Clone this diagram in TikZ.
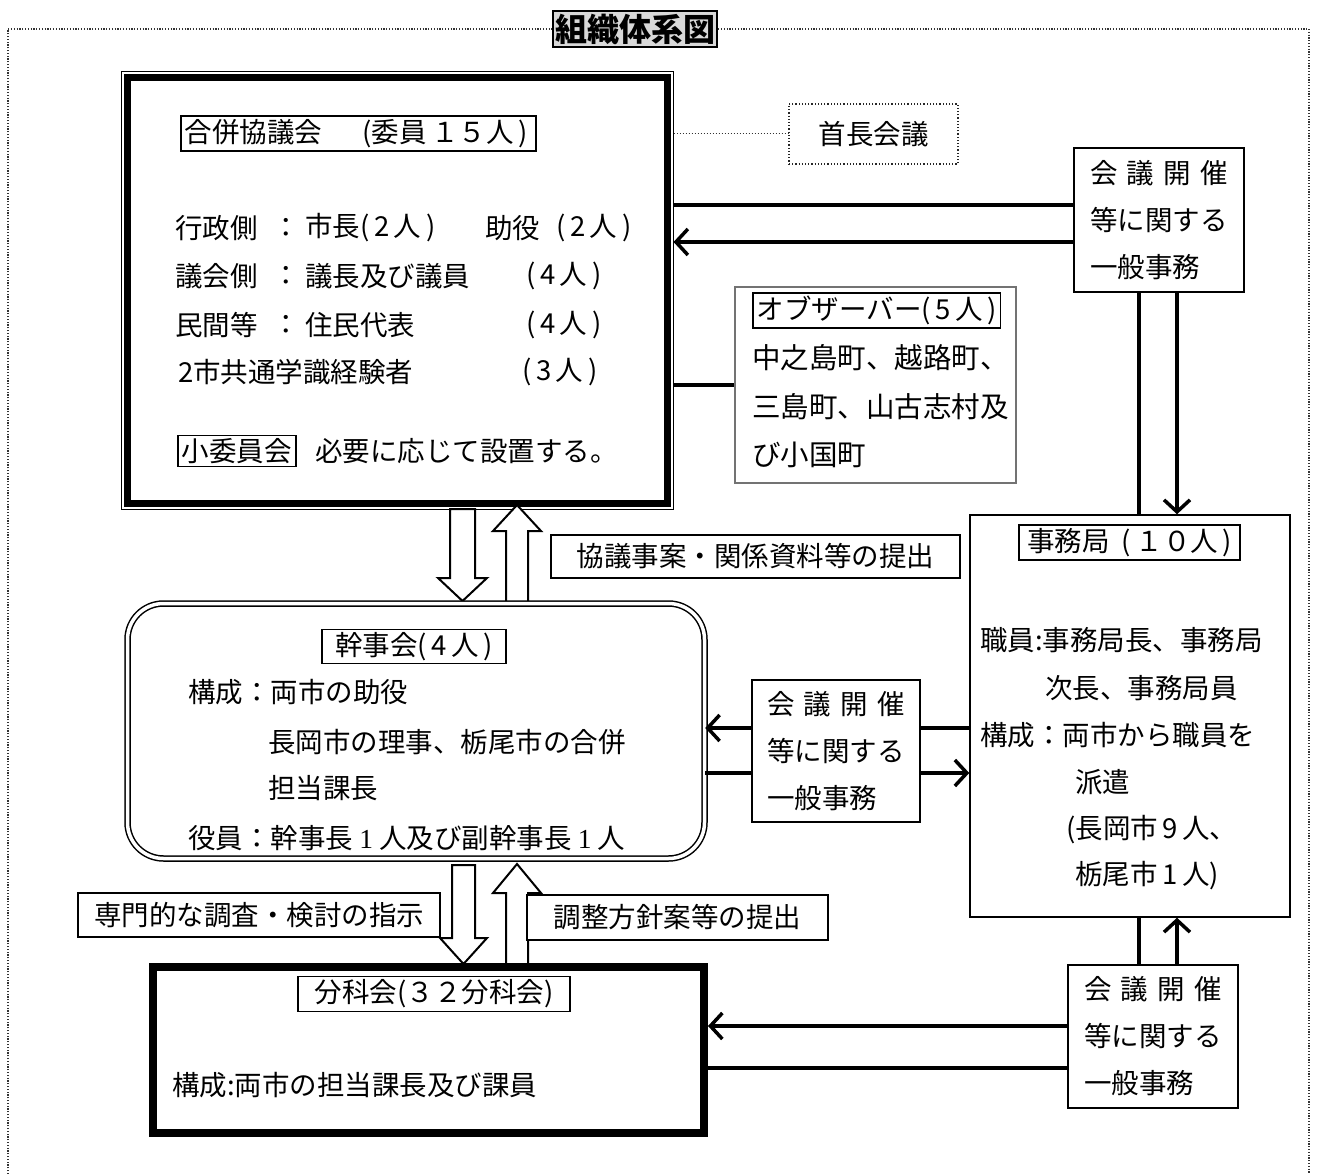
\documentclass[tikz,border=0pt]{standalone}
\usepackage{fontspec}
\setmainfont{Noto Sans CJK JP}
\newfontfamily\serifnum{Liberation Serif}
\usetikzlibrary{arrows.meta,calc}
\newcommand\jfs{\fontsize{27.5}{47}\selectfont}
\newcommand\gtext{\hbox to 5em{会\hfil 議\hfil 開\hfil 催}\\等に関する\\一般事務}
\begin{document}
\begin{tikzpicture}[x=1pt,y=-1pt,
  txt/.style={font=\jfs, inner sep=0pt, anchor=west},
  hdr/.style={draw, line width=1.5pt, inner xsep=4pt, inner ysep=3pt, font=\jfs},
  gbox/.style={draw, line width=1.5pt, fill=white, align=left, font=\jfs, inner sep=0pt},
  lbl/.style={draw, line width=1.5pt, fill=white, font=\jfs, inner sep=0pt},
  conn/.style={line width=3.5pt},
  arr/.style={conn, -{Straight Barb[length=12pt, width=26pt]}},
  barrow/.style={draw, line width=2pt, fill=white, line join=miter},
  framedot/.style={line width=1.2pt, dash pattern=on 1.2pt off 1.6pt, black!80},
]
\useasboundingbox (0,0) rectangle (1318,1174);

% title and frame
\node[draw, line width=2.5pt, fill=black!15, inner sep=0pt, minimum width=164pt, minimum height=36pt,
      font=\bfseries\fontsize{32}{32}\selectfont] (title) at (635,29) {組織体系図};
\draw[framedot] (8,1174) -- (8,29) -- (title.west);
\draw[framedot] (title.east) -- (1309,29) -- (1309,1174);

% 合併協議会
\node[draw, line width=1pt, minimum width=552pt, minimum height=437pt, inner sep=0pt] (kyo) at (397,290.5) {};
\draw[line width=7pt] ($(kyo.north west)+(6.5,6.5)$) rectangle ($(kyo.south east)+(-6.5,-6.5)$);
\node[hdr, anchor=west, text width=347pt, align=left] (kyoh) at (180,133.5) {合併協議会\hspace{40pt}(委員\,１５人\,)};
\node[txt] (r1a) at (175,228) {行政側};
\node[txt] (r1b) at (272,228) {：};
\node[txt] (r1c) at (305,228) {市長(\,2\,人\,)};
\node[txt] (r1d) at (485,228) {助役};
\node[txt] (r1e) at (556,228) {(\,2\,人\,)};
\node[txt] (r2a) at (175,276) {議会側};
\node[txt] (r2b) at (272,276) {：};
\node[txt] (r2c) at (305,276) {議長及び議員};
\node[txt] (r2d) at (526,276) {(\,4\,人\,)};
\node[txt] (r3a) at (175,325) {民間等};
\node[txt] (r3b) at (272,325) {：};
\node[txt] (r3c) at (305,325) {住民代表};
\node[txt] (r3d) at (526,325) {(\,4\,人\,)};
\node[txt] (r4a) at (178,372) {2市共通学識経験者};
\node[txt] (r4d) at (522,372) {(\,3\,人\,)};
\node[hdr, anchor=west] (sho) at (177,451) {小委員会};
\node[txt] (shot) at (315,451) {必要に応じて設置する。};

% 首長会議
\node[draw=black!85, dotted, line width=1.2pt, minimum width=169pt, minimum height=60pt, font=\jfs] (shu) at (873.5,134) {首長会議};
\draw[dotted, line width=1pt, black!80] (kyo.east |- shu.west) -- (shu.west);

% top general affairs box
\node[gbox, minimum width=170pt, minimum height=144pt] (g1) at (1159,220) {\gtext};
\draw[conn] (kyo.east |- 0,205) -- (g1.west |- 0,205);
\draw[arr] (g1.west |- 0,242) -- (kyo.east |- 0,242);

% observers
\node[draw=black!55, line width=1.2pt, minimum width=281pt, minimum height=196pt] (obs) at (875.5,385) {};
\node[hdr, anchor=west] (obsh) at (752,310.5) {オブザーバー(\,5\,人\,)};
\node[txt, align=left, font=\fontsize{28.5}{48.5}\selectfont] (obst) at (752,406.5) {中之島町、越路町、\\三島町、山古志村及\\び小国町};
\draw[conn] (kyo.east |- obs.west) -- (obs.west);

% 事務局
\node[draw, line width=1.5pt, minimum width=320pt, minimum height=402pt] (jim) at (1130,716) {};
\draw[conn] (g1.south -| 1139,0) -- (jim.north -| 1139,0);
\draw[arr] (g1.south -| 1177,0) -- (jim.north -| 1177,0);
\node[hdr, minimum width=221pt] (jimh) at (1129.5,542.5) {事務局\hspace{12pt}(\,１０人\,)};
\node[txt] (j1) at (980,640) {職員:事務局長、事務局};
\node[txt] (j2) at (1045,688) {次長、事務局員};
\node[txt] (j3) at (980,735) {構成：両市から職員を};
\node[txt] (j4) at (1075,782) {派遣};
\node[txt] (j5) at (1066,830) {(長岡市\,9\,人、};
\node[txt] (j6) at (1075,876) {栃尾市\,1\,人)};

% block arrows 合併協議会 <-> 幹事会
\draw[barrow] (450,509) -- (475,509) -- (475,578) -- (487,578) -- (462.5,601) -- (438,578) -- (450,578) -- cycle;
\draw[barrow] (506,603) -- (506,531) -- (493,531) -- (517,505) -- (541,531) -- (528,531) -- (528,603) -- cycle;
\node[lbl, minimum width=409pt, minimum height=43pt] (lb1) at (755.5,556.5) {協議事案・関係資料等の提出};

% 幹事会
\node[draw, double, line width=1.5pt, double distance=3.5pt, rounded corners=36pt,
      minimum width=577pt, minimum height=255pt] (kan) at (416,731) {};
\node[hdr, minimum width=184pt] (kanh) at (414,646.5) {幹事会(\,4\,人\,)};
\node[txt] (k1) at (188,692) {構成：両市の助役};
\node[txt] (k2) at (268,742) {長岡市の理事、栃尾市の合併};
\node[txt] (k3) at (268,788) {担当課長};
\node[txt] (k4) at (188,838) {役員：幹事長 {\serifnum 1} 人及び副幹事長 {\serifnum 1} 人};

% middle general affairs box
\node[gbox, minimum width=168pt, minimum height=142pt] (g2) at (836,751) {\gtext};
\draw[conn] (jim.west |- 0,728) -- (g2.east |- 0,728);
\draw[arr] (g2.west |- 0,728) -- (kan.east |- 0,728);
\draw[conn] (kan.east |- 0,773) -- (g2.west |- 0,773);
\draw[arr] (g2.east |- 0,773) -- (jim.west |- 0,773);

% block arrows 幹事会 <-> 分科会
\draw[barrow] (452,865) -- (475,865) -- (475,938) -- (487,938) -- (463.5,964) -- (440,938) -- (452,938) -- cycle;
\draw[barrow] (506,966) -- (506,893) -- (493,893) -- (517,864) -- (541,893) -- (528,893) -- (528,966) -- cycle;
\node[lbl, minimum width=362pt, minimum height=44pt] (lb2) at (259,915) {専門的な調査・検討の指示};
\node[lbl, minimum width=301pt, minimum height=45pt] (lb3) at (677.5,917.5) {調整方針案等の提出};

% 分科会
\node[draw, line width=8pt, minimum width=551pt, minimum height=166pt] (bun) at (428.5,1050) {};
\node[hdr, minimum width=272pt] (bunh) at (434,994) {分科会(３２分科会)};
\node[txt] (b1) at (172,1085) {構成:両市の担当課長及び課員};

% bottom general affairs box
\node[gbox, minimum width=170pt, minimum height=143pt] (g3) at (1153,1036.5) {\gtext};
\draw[conn] (jim.south -| 1139,0) -- (g3.north -| 1139,0);
\draw[arr] (g3.north -| 1177,0) -- (jim.south -| 1177,0);
\draw[arr] (g3.west |- 0,1026) -- (bun.east |- 0,1026);
\draw[conn] (bun.east |- 0,1068) -- (g3.west |- 0,1068);
\end{tikzpicture}
\end{document}
